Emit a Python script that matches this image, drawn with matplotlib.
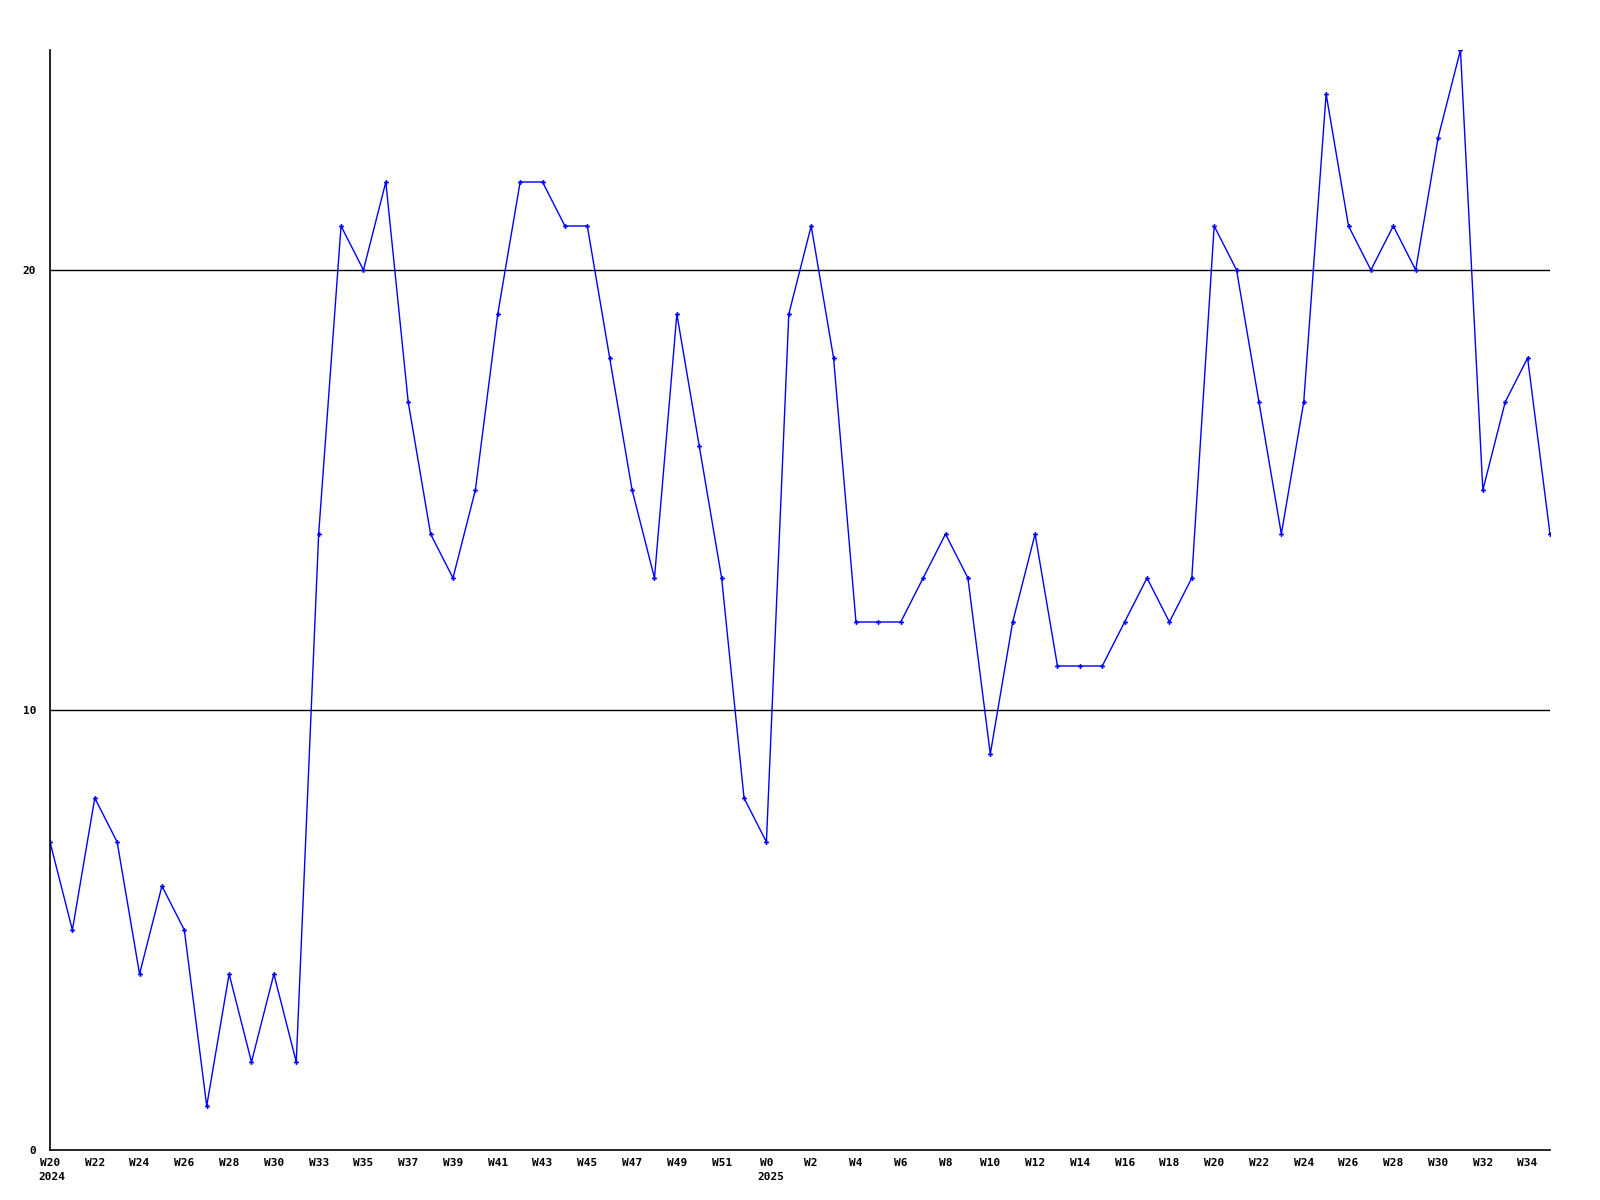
import matplotlib
matplotlib.use('Agg')
import matplotlib.pyplot as plt

# weekly counts, 2024 W20 .. 2025 W35
values = [7, 5, 8, 7, 4, 6, 5, 1, 4, 2, 4, 2, 14, 21, 20, 22, 17, 14, 13, 15,
          19, 22, 22, 21, 21, 18, 15, 13, 19, 16, 13, 8, 7, 19, 21, 18, 12, 12,
          12, 13, 14, 13, 9, 12, 14, 11, 11, 11, 12, 13, 12, 13, 21, 20, 17, 14,
          17, 24, 21, 20, 21, 20, 23, 25, 15, 17, 18, 14]
week_labels = ['W20', 'W22', 'W24', 'W26', 'W28', 'W30', 'W33', 'W35', 'W37',
               'W39', 'W41', 'W43', 'W45', 'W47', 'W49', 'W51', 'W0', 'W2',
               'W4', 'W6', 'W8', 'W10', 'W12', 'W14', 'W16', 'W18', 'W20',
               'W22', 'W24', 'W26', 'W28', 'W30', 'W32', 'W34']
year_labels = {'2024': 0, '2025': 32}
y_ticks = [0, 10, 20]

font = dict(family='DejaVu Sans Mono', fontweight='bold', fontsize=8)

x = list(range(len(values)))
fig = plt.figure(figsize=(16, 12), dpi=100)
ax = fig.add_axes([50/1600, 50/1200, 1500/1600, 1100/1200])

for yv in y_ticks[1:]:
    ax.axhline(yv, color='black', lw=1)
ax.plot(x, values, color='#0000ff', lw=1, marker='P', markersize=3.5,
        markeredgewidth=0)

ax.set_xlim(0, len(values) - 1)
ax.set_ylim(0, 25)
for s in ['top', 'right']:
    ax.spines[s].set_visible(False)
for s in ['left', 'bottom']:
    ax.spines[s].set_linewidth(1.2)

ax.set_yticks(y_ticks)
ax.set_yticklabels([str(v) for v in y_ticks], **font)
ax.set_xticks(x[::2][:len(week_labels)])
ax.set_xticklabels(week_labels, **font)
ax.tick_params(length=0, pad=6)
ax.tick_params(axis='y', pad=10)

for yr, idx in year_labels.items():
    lab = week_labels[idx // 2]
    ax.annotate(yr, xy=(idx, 0), xycoords='data',
                xytext=(-len(lab) * 3.3 - 2, -22), textcoords='offset pixels',
                ha='left', va='top', **font)

fig.savefig('out.png', dpi=100, facecolor='white')
